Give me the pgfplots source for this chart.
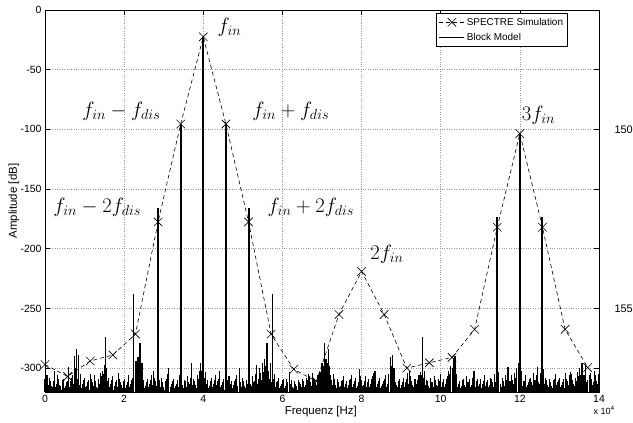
\documentclass[border=0pt]{standalone}
\usepackage[no-math]{fontspec}
\setmainfont{Liberation Sans}
\usepackage{pgfplots}
\usepackage{pgfplotstable}
\pgfplotsset{compat=1.18}

% SPECTRE simulation (crosses, dashed)
\pgfplotstableread{
x y
0.000 -297
0.571 -307
1.143 -294
1.714 -289
2.286 -271.5
2.857 -177.5
3.429 -95.5
4.000 -22.5
4.571 -95.5
5.143 -177.5
5.714 -271.5
6.286 -301
6.857 -311
7.429 -255
8.000 -219
8.571 -255
9.143 -300
9.714 -295.5
10.286 -291
10.857 -267.5
11.429 -182
12.000 -103.5
12.571 -182
13.143 -267.5
13.714 -299.5
}\spectre

% Block model, main tones
\pgfplotstableread{
x y
2.857 -166
3.429 -96
4.000 -22.5
4.571 -96
5.143 -166
11.429 -173
12.000 -103.5
12.571 -173
}\tones

% Block model, noise floor
\pgfplotstableread[row sep=\\]{
x y\\
0.00 -309\\ 0.05 -306\\ 0.10 -314\\ 0.15 -311\\ 0.20 -316\\ 0.25 -302\\ 0.30 -313\\ 0.35 -309\\
0.40 -315\\ 0.45 -310\\ 0.50 -317\\ 0.55 -312\\ 0.60 -299\\ 0.65 -311\\ 0.70 -306\\ 0.75 -290\\
0.80 -284\\ 0.85 -289\\ 0.90 -305\\ 0.95 -313\\ 1.00 -308\\ 1.05 -315\\ 1.10 -310\\ 1.15 -305\\
1.20 -312\\ 1.25 -306\\ 1.30 -316\\ 1.35 -309\\ 1.40 -304\\ 1.45 -302\\ 1.50 -297\\ 1.53 -274\\
1.55 -300\\ 1.60 -308\\ 1.65 -313\\ 1.70 -307\\ 1.75 -315\\ 1.80 -310\\ 1.85 -304\\ 1.90 -312\\
1.95 -317\\ 2.00 -309\\ 2.05 -314\\ 2.10 -306\\ 2.15 -313\\ 2.20 -308\\ 2.24 -238\\ 2.30 -294\\
2.35 -291\\ 2.40 -279\\ 2.45 -296\\ 2.50 -310\\ 2.55 -315\\ 2.60 -309\\ 2.65 -313\\ 2.70 -306\\
2.75 -302\\ 2.80 -311\\ 2.90 -314\\ 2.95 -308\\ 3.00 -316\\ 3.05 -311\\ 3.10 -305\\ 3.13 -300\\
3.20 -313\\ 3.25 -309\\ 3.30 -315\\ 3.35 -310\\ 3.40 -306\\ 3.45 -312\\ 3.50 -317\\ 3.55 -311\\
3.60 -307\\ 3.65 -313\\ 3.70 -296\\ 3.75 -309\\ 3.80 -314\\ 3.85 -306\\ 3.90 -302\\ 3.94 -296\\
3.97 -300\\ 4.05 -303\\ 4.10 -310\\ 4.15 -315\\ 4.20 -308\\ 4.25 -313\\ 4.30 -306\\ 4.35 -311\\
4.40 -302\\ 4.45 -314\\ 4.50 -309\\ 4.55 -316\\ 4.60 -310\\ 4.65 -307\\ 4.70 -313\\ 4.75 -317\\
4.80 -311\\ 4.85 -306\\ 4.91 -300\\ 4.95 -312\\ 5.00 -308\\ 5.05 -315\\ 5.10 -310\\ 5.20 -313\\
5.25 -307\\ 5.30 -311\\ 5.34 -297\\ 5.40 -309\\ 5.45 -304\\ 5.50 -296\\ 5.55 -292\\ 5.61 -279\\
5.65 -302\\ 5.70 -296\\ 5.76 -238\\ 5.80 -305\\ 5.85 -312\\ 5.90 -308\\ 5.95 -315\\ 6.00 -310\\
6.05 -317\\ 6.10 -309\\ 6.18 -303\\ 6.20 -313\\ 6.25 -316\\ 6.30 -311\\ 6.35 -315\\ 6.40 -310\\
6.45 -313\\ 6.50 -309\\ 6.55 -316\\ 6.60 -308\\ 6.65 -305\\ 6.70 -312\\ 6.75 -304\\ 6.80 -309\\
6.85 -314\\ 6.90 -306\\ 6.95 -303\\ 7.00 -296\\ 7.06 -279\\ 7.10 -292\\ 7.17 -284\\ 7.20 -298\\
7.25 -310\\ 7.30 -305\\ 7.35 -314\\ 7.40 -309\\ 7.45 -316\\ 7.50 -311\\ 7.55 -307\\ 7.60 -313\\
7.65 -317\\ 7.70 -310\\ 7.75 -306\\ 7.80 -313\\ 7.85 -308\\ 7.90 -315\\ 7.95 -301\\ 8.00 -310\\
8.05 -314\\ 8.10 -307\\ 8.15 -312\\ 8.20 -316\\ 8.25 -309\\ 8.30 -304\\ 8.34 -302\\ 8.40 -313\\
8.45 -308\\ 8.50 -315\\ 8.55 -311\\ 8.60 -306\\ 8.65 -313\\ 8.72 -291\\ 8.78 -289\\ 8.82 -300\\
8.85 -312\\ 8.90 -316\\ 8.95 -309\\ 9.00 -314\\ 9.05 -308\\ 9.10 -312\\ 9.15 -304\\ 9.20 -302\\
9.25 -311\\ 9.30 -316\\ 9.35 -309\\ 9.40 -313\\ 9.45 -306\\ 9.50 -303\\ 9.55 -274\\ 9.60 -302\\
9.65 -310\\ 9.70 -315\\ 9.75 -308\\ 9.80 -312\\ 9.85 -307\\ 9.90 -314\\ 9.95 -309\\ 10.00 -305\\
10.05 -312\\ 10.10 -316\\ 10.15 -309\\ 10.20 -302\\ 10.25 -298\\ 10.33 -292\\ 10.36 -290\\ 10.40 -305\\
10.45 -313\\ 10.50 -317\\ 10.55 -310\\ 10.60 -314\\ 10.65 -307\\ 10.70 -312\\ 10.75 -316\\ 10.80 -308\\
10.84 -302\\ 10.90 -311\\ 10.95 -315\\ 11.00 -309\\ 11.05 -313\\ 11.10 -306\\ 11.15 -312\\ 11.20 -316\\
11.25 -308\\ 11.30 -312\\ 11.35 -305\\ 11.40 -310\\ 11.47 -303\\ 11.50 -313\\ 11.55 -308\\ 11.60 -315\\
11.65 -310\\ 11.70 -299\\ 11.75 -311\\ 11.80 -306\\ 11.85 -313\\ 11.90 -308\\ 11.97 -296\\ 12.05 -302\\
12.10 -311\\ 12.15 -306\\ 12.20 -314\\ 12.25 -309\\ 12.30 -312\\ 12.35 -304\\ 12.40 -310\\ 12.45 -299\\
12.50 -313\\ 12.58 -283\\ 12.65 -308\\ 12.70 -314\\ 12.75 -309\\ 12.80 -315\\ 12.85 -310\\ 12.90 -305\\
12.95 -312\\ 13.00 -308\\ 13.05 -314\\ 13.10 -309\\ 13.15 -304\\ 13.20 -311\\ 13.25 -306\\ 13.30 -305\\
13.35 -313\\ 13.40 -308\\ 13.45 -303\\ 13.51 -300\\ 13.57 -296\\ 13.62 -306\\ 13.67 -297\\ 13.72 -310\\
13.78 -304\\ 13.83 -314\\ 13.88 -302\\ 13.93 -311\\ 13.98 -308\\
}\noise

% Block model, noise floor between the bins above
\pgfplotstableread[row sep=\\]{
x y\\
0.025 -313\\ 0.075 -317\\ 0.125 -308\\ 0.175 -315\\ 0.225 -311\\ 0.275 -316\\ 0.325 -306\\ 0.375 -314\\
0.425 -318\\ 0.475 -309\\ 0.525 -315\\ 0.575 -311\\ 0.625 -316\\ 0.675 -308\\ 0.725 -313\\ 0.775 -300\\
0.825 -309\\ 0.875 -314\\ 0.925 -317\\ 0.975 -310\\ 1.025 -316\\ 1.075 -312\\ 1.125 -318\\ 1.175 -309\\
1.225 -315\\ 1.275 -311\\ 1.325 -317\\ 1.375 -313\\ 1.425 -307\\ 1.475 -305\\ 1.515 -303\\ 1.575 -311\\
1.625 -316\\ 1.675 -310\\ 1.725 -318\\ 1.775 -312\\ 1.825 -316\\ 1.875 -309\\ 1.925 -314\\ 1.975 -311\\
2.025 -317\\ 2.075 -312\\ 2.125 -316\\ 2.175 -310\\ 2.225 -305\\ 2.275 -312\\ 2.325 -298\\ 2.375 -302\\
2.425 -300\\ 2.475 -313\\ 2.525 -317\\ 2.575 -312\\ 2.625 -316\\ 2.675 -310\\ 2.725 -314\\ 2.775 -308\\
2.825 -315\\ 2.885 -310\\ 2.925 -316\\ 2.975 -312\\ 3.025 -318\\ 3.075 -309\\ 3.125 -313\\ 3.175 -316\\
3.225 -311\\ 3.275 -317\\ 3.325 -313\\ 3.375 -316\\ 3.405 -310\\ 3.475 -314\\ 3.525 -310\\ 3.575 -316\\
3.625 -312\\ 3.675 -308\\ 3.725 -314\\ 3.775 -311\\ 3.825 -317\\ 3.875 -309\\ 3.925 -305\\ 3.960 -302\\
4.030 -308\\ 4.075 -313\\ 4.125 -317\\ 4.175 -311\\ 4.225 -316\\ 4.275 -310\\ 4.325 -314\\ 4.375 -309\\
4.425 -316\\ 4.475 -312\\ 4.525 -318\\ 4.595 -313\\ 4.625 -309\\ 4.675 -315\\ 4.725 -311\\ 4.775 -314\\
4.825 -309\\ 4.875 -315\\ 4.925 -307\\ 4.975 -316\\ 5.025 -311\\ 5.075 -317\\ 5.120 -313\\ 5.175 -309\\
5.225 -315\\ 5.275 -312\\ 5.325 -305\\ 5.375 -313\\ 5.425 -300\\ 5.475 -310\\ 5.525 -303\\ 5.575 -298\\
5.625 -307\\ 5.675 -309\\ 5.725 -312\\ 5.775 -309\\ 5.825 -316\\ 5.875 -311\\ 5.925 -317\\ 5.975 -313\\
6.025 -309\\ 6.075 -315\\ 6.125 -312\\ 6.175 -316\\ 6.225 -310\\ 6.275 -317\\ 6.325 -313\\ 6.375 -318\\
6.425 -312\\ 6.475 -316\\ 6.525 -311\\ 6.575 -314\\ 6.625 -310\\ 6.675 -307\\ 6.725 -315\\ 6.775 -308\\
6.825 -312\\ 6.875 -317\\ 6.925 -310\\ 6.975 -307\\ 7.030 -298\\ 7.085 -300\\ 7.135 -296\\ 7.225 -306\\
7.275 -314\\ 7.325 -309\\ 7.375 -317\\ 7.425 -312\\ 7.475 -315\\ 7.525 -310\\ 7.575 -316\\ 7.625 -311\\
7.675 -314\\ 7.725 -309\\ 7.775 -316\\ 7.825 -311\\ 7.875 -317\\ 7.925 -312\\ 7.975 -307\\ 8.025 -315\\
8.075 -311\\ 8.125 -316\\ 8.175 -309\\ 8.225 -313\\ 8.275 -307\\ 8.325 -310\\ 8.375 -316\\ 8.425 -311\\
8.475 -317\\ 8.525 -313\\ 8.575 -309\\ 8.625 -316\\ 8.675 -305\\ 8.750 -298\\ 8.800 -306\\ 8.875 -314\\
8.925 -311\\ 8.975 -317\\ 9.025 -312\\ 9.075 -316\\ 9.125 -309\\ 9.175 -313\\ 9.225 -307\\ 9.275 -314\\
9.325 -311\\ 9.375 -317\\ 9.425 -310\\ 9.475 -312\\ 9.525 -306\\ 9.575 -308\\ 9.625 -314\\ 9.675 -311\\
9.725 -317\\ 9.775 -312\\ 9.825 -316\\ 9.875 -310\\ 9.925 -315\\ 9.975 -311\\ 10.025 -316\\ 10.075 -309\\
10.125 -313\\ 10.175 -307\\ 10.225 -305\\ 10.300 -300\\ 10.375 -308\\ 10.425 -316\\ 10.475 -311\\ 10.525 -315\\
10.575 -309\\ 10.625 -316\\ 10.675 -312\\ 10.725 -309\\ 10.775 -314\\ 10.825 -311\\ 10.875 -316\\ 10.925 -309\\
10.975 -313\\ 11.025 -317\\ 11.075 -311\\ 11.125 -315\\ 11.175 -310\\ 11.225 -314\\ 11.275 -309\\ 11.325 -316\\
11.375 -312\\ 11.450 -307\\ 11.525 -316\\ 11.575 -311\\ 11.625 -306\\ 11.675 -313\\ 11.725 -309\\ 11.775 -315\\
11.825 -310\\ 11.875 -304\\ 11.925 -300\\ 11.985 -303\\ 12.025 -309\\ 12.075 -315\\ 12.125 -311\\ 12.175 -316\\
12.225 -312\\ 12.275 -308\\ 12.325 -314\\ 12.375 -310\\ 12.425 -306\\ 12.475 -312\\ 12.525 -304\\ 12.600 -301\\
12.625 -313\\ 12.675 -310\\ 12.725 -316\\ 12.775 -312\\ 12.825 -317\\ 12.875 -309\\ 12.925 -314\\ 12.975 -310\\
13.025 -316\\ 13.075 -312\\ 13.125 -317\\ 13.175 -309\\ 13.225 -314\\ 13.275 -303\\ 13.325 -310\\ 13.375 -315\\
13.425 -311\\ 13.475 -307\\ 13.535 -306\\ 13.595 -303\\ 13.645 -309\\ 13.695 -312\\ 13.750 -306\\ 13.805 -309\\
13.855 -312\\ 13.905 -306\\ 13.955 -313\\ 13.990 -305\\
}\noisetwo

\begin{document}
\begin{tikzpicture}
\begin{axis}[
  at={(0,0)}, anchor=south west,
  scale only axis,
  width=554bp, height=382bp,
  xmin=0, xmax=14, ymin=-320, ymax=0,
  xtick={0,2,...,14}, ytick={-300,-250,...,0},
  scaled ticks=false,
  /pgf/number format/assume math mode=true,
  tick align=inside, major tick length=5bp,
  xtick pos=both, ytick pos=both,
  tick style={black, line width=0.6bp},
  axis line style={line width=0.9bp},
  grid=major,
  grid style={dotted, gray!80, line width=0.5bp},
  tick label style={font=\fontsize{10.5}{12}\selectfont},
  label style={font=\fontsize{11.5}{13}\selectfont},
  xlabel={Frequenz [Hz]},
  ylabel={Amplitude [dB]},
  xlabel style={at={(axis description cs:0.498,-0.05)}, anchor=center},
  ylabel style={at={(axis description cs:-0.056,0.5)}, anchor=center},
  clip=false,
  legend style={at={(rel axis cs:0.944,0.992)}, anchor=north east,
    font=\fontsize{10}{12}\selectfont, draw=black, line width=0.8bp,
    inner sep=2.5bp, row sep=2.5bp, cells={anchor=west}},
  legend image code/.code={\draw[mark repeat=2, mark phase=2, #1]
    plot coordinates {(0bp,0bp) (12.5bp,0bp) (25bp,0bp)};},
]

% noise floor of the block model
\addplot[draw=none, no markers, forget plot,
  error bars/.cd, y dir=minus, y explicit, error mark=none,
  error bar style={draw=black, solid, line width=1.1bp}]
  table[x=x, y=y, y error expr=\thisrow{y}+320] {\noise};
\addplot[draw=none, no markers, forget plot,
  error bars/.cd, y dir=minus, y explicit, error mark=none,
  error bar style={draw=black, solid, line width=1bp}]
  table[x=x, y=y, y error expr=\thisrow{y}+320] {\noisetwo};

% main tones of the block model
\addplot[draw=none, no markers, forget plot,
  error bars/.cd, y dir=minus, y explicit, error mark=none,
  error bar style={draw=black, solid, line width=2bp}]
  table[x=x, y=y, y error expr=\thisrow{y}+320] {\tones};

\addplot[black, line width=0.6bp, dash pattern=on 4bp off 3bp,
  mark=x, mark size=6bp, mark options={solid, line width=0.6bp}]
  table[x=x, y=y] {\spectre};
\addlegendentry{SPECTRE Simulation}

\addlegendimage{black, solid, line width=0.6bp}
\addlegendentry{Block Model}

\node[font=\fontsize{21}{24}\selectfont, anchor=center] at (axis cs:4.66,-14.3) {$f_{in}$};
\node[font=\fontsize{21}{24}\selectfont, anchor=center] at (axis cs:1.93,-84.7) {$f_{in}-f_{dis}$};
\node[font=\fontsize{21}{24}\selectfont, anchor=center] at (axis cs:6.21,-84.7) {$f_{in}+f_{dis}$};
\node[font=\fontsize{21}{24}\selectfont, anchor=center] at (axis cs:1.32,-165) {$f_{in}-2f_{dis}$};
\node[font=\fontsize{21}{24}\selectfont, anchor=center] at (axis cs:6.72,-165) {$f_{in}+2f_{dis}$};
\node[font=\fontsize{21}{24}\selectfont, anchor=center] at (axis cs:8.64,-204.5) {$2f_{in}$};
\node[font=\fontsize{21}{24}\selectfont, anchor=center] at (axis cs:12.47,-88) {$3f_{in}$};

\node[font=\fontsize{11}{13}\selectfont, anchor=west] at (axis cs:14,-100) [xshift=12bp] {150};
\node[font=\fontsize{11}{13}\selectfont, anchor=west] at (axis cs:14,-250) [xshift=12bp] {155};
\node[font=\fontsize{9}{11}\selectfont, anchor=center] at (rel axis cs:1,0) [xshift=5bp, yshift=-18bp]
  {x 10\raisebox{4bp}{\fontsize{6.5}{8}\selectfont 4}};
\end{axis}
\pgfresetboundingbox
\path[use as bounding box] (-45bp,-31bp) rectangle (588bp,392bp);
\end{tikzpicture}
\end{document}
